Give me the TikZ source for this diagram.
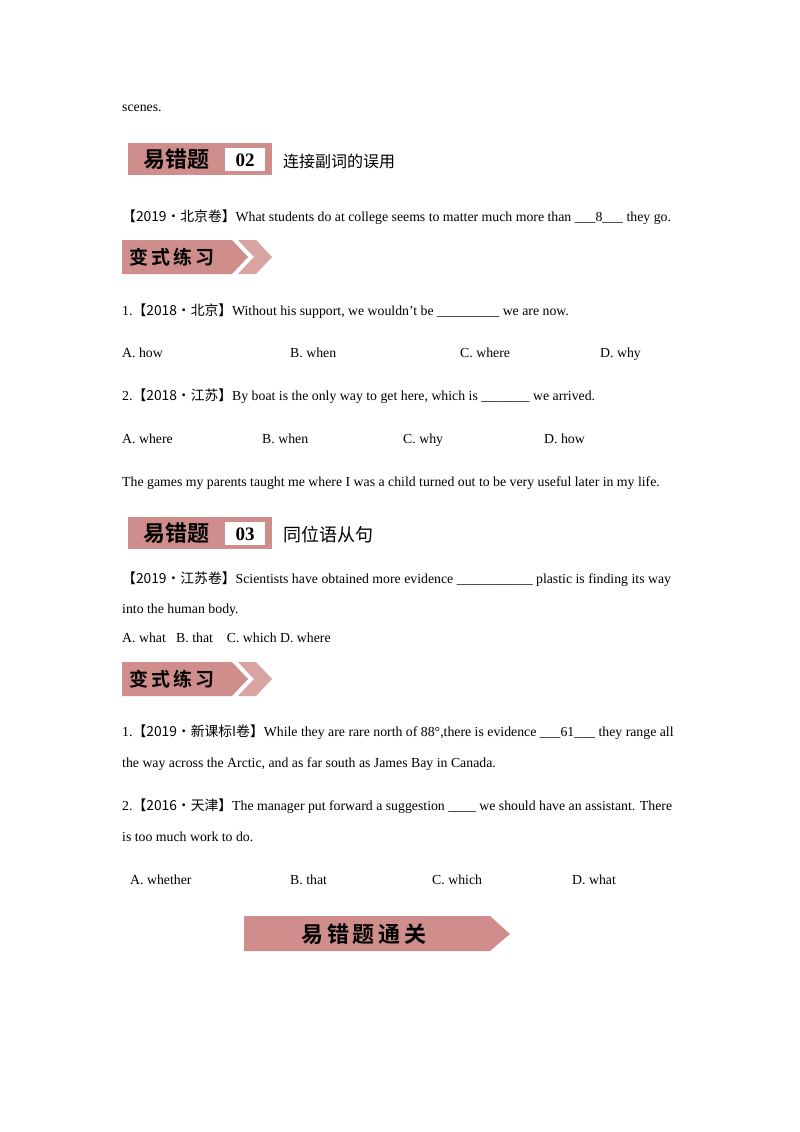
\documentclass[tikz,border=0pt]{standalone}
\usepackage{fontspec}
\setmainfont{Liberation Serif}
\newfontfamily\cjk{Noto Sans CJK SC}
\newfontfamily\cjkb{Noto Sans CJK SC}[BoldFont={* Bold}]
\definecolor{pk}{HTML}{CF8E8B}
\begin{document}
\begin{tikzpicture}[x=1pt,y=-1pt,
  t/.style={anchor=base west,inner sep=0pt,yshift=-4.5pt,font=\fontsize{13.8}{15}\selectfont},
  hd/.style={anchor=west,inner sep=0pt,font=\cjk\fontsize{16}{18}\selectfont},
  bt/.style={inner sep=0pt,font=\cjkb\bfseries\fontsize{22}{24}\selectfont}]
\useasboundingbox[fill=white] (0,0) rectangle (800,1132);
\newcommand\Z[1]{{\cjk #1}}
\node[t] (s0) at (122,107) {scenes.};
% banner 02
\fill[pk] (128,143) rectangle (272,175);
\fill[white] (225,148) rectangle (265,171);
\node[bt] (b1) at (176,159) {易错题};
\node[inner sep=0pt,font=\bfseries\fontsize{19}{20}\selectfont] (n1) at (245,160) {02};
\node[hd] (h1) at (283,161) {连接副词的误用};
\node[t] (q1) at (122,217) {\Z{【2019·北京卷】}What students do at college seems to matter much more than \_\_\_8\_\_\_ they go.};
% bianshi 1
\fill[pk] (122,240) -- (232,240) -- (248,257) -- (232,274) -- (122,274) -- cycle;
\fill[pk!80] (238,240) -- (256,240) -- (272,257) -- (256,274) -- (238,274) -- (254,257) -- cycle;
\node[bt,font=\cjkb\bfseries\fontsize{19}{20}\selectfont] (v1) at (172,257) {变\,式\,练\,习};
\node[t] (a1) at (122,311) {1.\Z{【2018·北京】}Without his support, we wouldn’t be \_\_\_\_\_\_\_\_\_ we are now.};
\node[t] (o11) at (122,353) {A. how};
\node[t] (o12) at (290,353) {B. when};
\node[t] (o13) at (460,353) {C. where};
\node[t] (o14) at (600,353) {D. why};
\node[t] (a2) at (122,396) {2.\Z{【2018·江苏】}By boat is the only way to get here, which is \_\_\_\_\_\_\_ we arrived.};
\node[t] (o21) at (122,439) {A. where};
\node[t] (o22) at (262,439) {B. when};
\node[t] (o23) at (403,439) {C. why};
\node[t] (o24) at (544,439) {D. how};
\node[t] (g) at (122,482) {The games my parents taught me where I was a child turned out to be very useful later in my life.};
% banner 03
\fill[pk] (128,517) rectangle (272,549);
\fill[white] (225,522) rectangle (265,545);
\node[bt] (b2) at (176,533) {易错题};
\node[inner sep=0pt,font=\bfseries\fontsize{19}{20}\selectfont] (n2) at (245,534) {03};
\node[hd,font=\cjk\fontsize{18}{20}\selectfont] (h2) at (283,535) {同位语从句};
\node[t] (q2) at (122,579) {\Z{【2019·江苏卷】}Scientists have obtained more evidence \_\_\_\_\_\_\_\_\_\_\_ plastic is finding its way};
\node[t] (q2b) at (122,609) {into the human body.};
\node[t] (q2c) at (122,638) {A. what\ \ \ B. that\ \ \ \ C. which D. where};
% bianshi 2
\fill[pk] (122,662) -- (232,662) -- (248,679) -- (232,696) -- (122,696) -- cycle;
\fill[pk!80] (238,662) -- (256,662) -- (272,679) -- (256,696) -- (238,696) -- (254,679) -- cycle;
\node[bt,font=\cjkb\bfseries\fontsize{19}{20}\selectfont] (v2) at (172,679) {变\,式\,练\,习};
\node[t] (c1) at (122,732) {1.\Z{【2019·新课标I卷】}While they are rare north of 88°,there is evidence \_\_\_61\_\_\_ they range all};
\node[t] (c1b) at (122,763) {the way across the Arctic, and as far south as James Bay in Canada.};
\node[t] (c2) at (122,806) {2.\Z{【2016·天津】}The manager put forward a suggestion \_\_\_\_ we should have an assistant. There};
\node[t] (c2b) at (122,837) {is too much work to do.};
\node[t] (p1) at (130,880) {A. whether};
\node[t] (p2) at (290,880) {B. that};
\node[t] (p3) at (432,880) {C. which};
\node[t] (p4) at (572,880) {D. what};
% bottom banner
\fill[pk] (244,916) -- (490,916) -- (510,934) -- (490,951) -- (244,951) -- cycle;
\node[bt,font=\cjkb\bfseries\fontsize{22}{24}\selectfont] (e) at (364,934) {易\,错\,题\,通\,关};
\end{tikzpicture}
\end{document}
